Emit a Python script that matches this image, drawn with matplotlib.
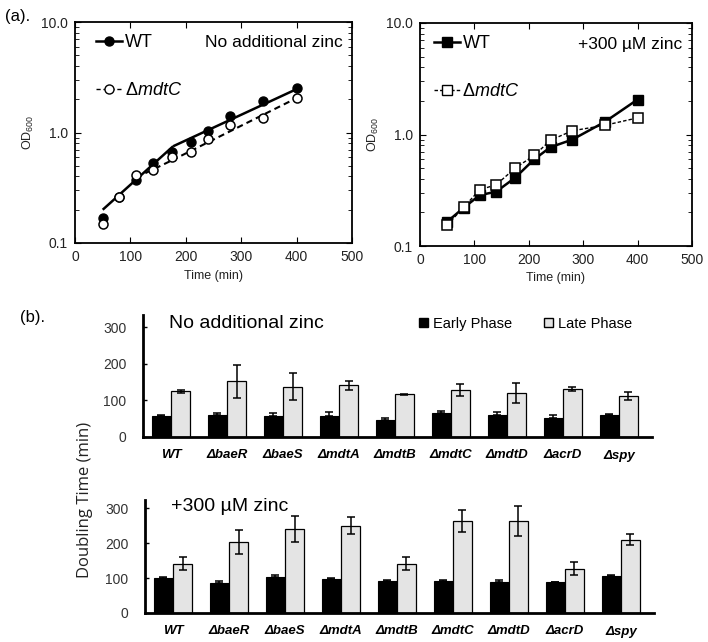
import matplotlib
matplotlib.use("Agg")
import matplotlib.pyplot as plt
import numpy as np
from matplotlib.lines import Line2D
from matplotlib.patches import Patch
from matplotlib.ticker import FixedLocator, FixedFormatter, NullFormatter

plt.rcParams['font.family'] = ['Liberation Sans', 'DejaVu Sans']
plt.rcParams['mathtext.fontset'] = 'custom'
plt.rcParams['mathtext.rm'] = 'Liberation Sans'
plt.rcParams['mathtext.it'] = 'Liberation Sans:italic'
plt.rcParams['mathtext.bf'] = 'Liberation Sans:bold'

# ---------------- data: panel (a) ----------------
time_wt = [50, 80, 110, 140, 175, 210, 240, 280, 340, 400]
od_wt_nozn = [0.168, 0.26, 0.37, 0.53, 0.67, 0.82, 1.04, 1.42, 1.93, 2.51]
time_mut = [50, 80, 110, 140, 175, 210, 240, 280, 340, 400]
od_mut_nozn = [0.150, 0.26, 0.41, 0.46, 0.60, 0.66, 0.87, 1.16, 1.36, 2.05]
# fitted lines (no additional zinc)
fit_wt_t = [[50, 177], [177, 400]]
fit_wt_od = [[0.20, 0.75], [0.75, 2.47]]
fit_mut_t = [[110, 175], [175, 400]]
fit_mut_od = [[0.39, 0.56], [0.56, 2.05]]

od_wt_zn = [0.165, 0.22, 0.286, 0.307, 0.41, 0.60, 0.77, 0.90, 1.30, 2.06]
od_mut_zn = [0.154, 0.222, 0.32, 0.354, 0.50, 0.65, 0.89, 1.08, 1.21, 1.41]

# ---------------- data: panel (b) ----------------
strains = ['WT', 'ΔbaeR', 'ΔbaeS', 'ΔmdtA', 'ΔmdtB', 'ΔmdtC', 'ΔmdtD', 'ΔacrD', 'Δspy']
early_nozn = [58, 59, 58, 58, 46, 65, 59, 51, 59]
early_nozn_err = [2, 8, 9, 10, 7, 5, 10, 8, 4]
late_nozn = [125, 153, 138, 141, 117, 128, 120, 132, 111]
late_nozn_err = [5, 45, 36, 12, 2, 17, 27, 6, 11]
early_zn = [100, 87, 103, 97, 92, 92, 89, 89, 107]
early_zn_err = [2, 4, 5, 2, 2, 2, 5, 1, 2]
late_zn = [141, 204, 240, 250, 141, 262, 262, 127, 210]
late_zn_err = [19, 34, 36, 25, 19, 31, 43, 19, 15]

fig = plt.figure(figsize=(7.08, 6.42), dpi=100)

def style_growth(ax):
    ax.set_yscale('log')
    ax.set_xlim(0, 500)
    ax.set_ylim(0.1, 10)
    ax.set_xticks([0, 100, 200, 300, 400, 500])
    ax.yaxis.set_major_locator(FixedLocator([0.1, 1, 10]))
    ax.yaxis.set_major_formatter(FixedFormatter(['0.1', '1.0', '10.0']))
    minors = [m * d for d in (0.1, 1) for m in range(2, 10)]
    ax.yaxis.set_minor_locator(FixedLocator(minors))
    ax.yaxis.set_minor_formatter(NullFormatter())
    ax.tick_params(which='both', direction='in', top=True, right=True,
                   labelsize=10, colors='black', labelcolor='#222222', pad=5)
    ax.tick_params(which='major', length=4, width=0.8)
    ax.tick_params(which='minor', length=3, width=0.6)
    for s in ax.spines.values():
        s.set_linewidth(1.3)
    ax.set_xlabel('Time (min)', fontsize=9, labelpad=4, color='#222222')
    ax.set_ylabel('OD$_{600}$', fontsize=9, labelpad=4, color='#222222')

leg_kw = dict(loc='upper left', borderaxespad=0, borderpad=0, frameon=False,
              fontsize=13, handlelength=1.45, handletextpad=0.15, labelspacing=1.7)

# ---- (a) left
ax1 = fig.add_axes([75/708, 1-243/642, 277/708, 221/642])
style_growth(ax1)
for t, o in zip(fit_wt_t, fit_wt_od):
    ax1.plot(t, o, color='black', lw=1.8, solid_capstyle='butt')
for t, o in zip(fit_mut_t, fit_mut_od):
    ax1.plot(t, o, color='black', lw=1.5, ls=(0, (3, 2)))
ax1.plot(time_wt, od_wt_nozn, 'o', color='black', ms=6.5, ls='none', zorder=3)
ax1.plot(time_mut, od_mut_nozn, 'o', mfc='white', mec='black', mew=1.1, ms=6.5,
         ls='none', zorder=4)
h1 = [Line2D([], [], color='black', lw=1.8, marker='o', ms=6.5),
      Line2D([], [], color='black', lw=1.0, ls=(0, (3, 2)), marker='o', mfc='white',
             mec='black', ms=6.5)]
ax1.legend(h1, ['WT', r'$\Delta\it{mdtC}$'], bbox_to_anchor=(0.075, 0.945), **leg_kw)
ax1.text(0.965, 0.905, 'No additional zinc', transform=ax1.transAxes, ha='right',
         va='center', fontsize=12.5)

# ---- (a) right
ax2 = fig.add_axes([420/708, 1-246/642, 272/708, 223/642])
style_growth(ax2)
ax2.plot(time_wt, od_wt_zn, '-s', color='black', lw=1.8, ms=7, zorder=3)
ax2.plot(time_mut, od_mut_zn, ls=(0, (2.5, 1.5)), color='black', lw=1.0,
         marker='s', mfc='white', mec='black', mew=1.1, ms=7.5, zorder=4)
h2 = [Line2D([], [], color='black', lw=1.8, marker='s', ms=7),
      Line2D([], [], color='black', lw=1.0, ls=(0, (2.5, 1.5)), marker='s', mfc='white',
             mec='black', ms=7.5)]
ax2.legend(h2, ['WT', r'$\Delta\it{mdtC}$'], bbox_to_anchor=(0.05, 0.945), **leg_kw)
ax2.text(0.963, 0.905, '+300 µM zinc', transform=ax2.transAxes, ha='right',
         va='center', fontsize=12.5)

fig.text(5/708, 1-16/642, '(a).', fontsize=12, va='center', ha='left')
fig.text(20/708, 1-318/642, '(b).', fontsize=12, va='center', ha='left')

# ---- (b) bar panels
def bar_panel(rect, early, early_err, late, late_err, ytop, title, title_y):
    ax = fig.add_axes(rect)
    x = np.arange(len(strains))
    w = 0.34
    ek = dict(ecolor='black', elinewidth=1.1, capsize=3, capthick=1.1)
    ax.bar(x - w/2, early, w, yerr=[np.zeros(len(early)), early_err],
           color='black', edgecolor='black', linewidth=0.8, error_kw=ek)
    ax.bar(x + w/2, late, w, yerr=late_err, color='#e4e4e4',
           edgecolor='black', linewidth=0.9, error_kw=ek)
    ax.set_xlim(-0.5, 8.59)
    ax.set_ylim(0, ytop)
    ax.set_yticks([0, 100, 200, 300])
    ax.set_xticks(x)
    ax.set_xticklabels(strains, fontsize=9.5, fontweight='bold', style='italic')
    ax.tick_params(axis='x', length=0, pad=9)
    ax.tick_params(axis='y', direction='in', length=3, width=1, labelsize=10,
                   labelcolor='#333333', pad=12)
    for s in ('top', 'right'):
        ax.spines[s].set_visible(False)
    for s in ('left', 'bottom'):
        ax.spines[s].set_linewidth(2)
    ax.text(26/509, title_y, title, transform=ax.transAxes, fontsize=14,
            va='center', ha='left')
    return ax

bx1 = bar_panel([143/708, 1-437/642, 509/708, 122/642], early_nozn, early_nozn_err,
                late_nozn, late_nozn_err, 334, 'No additional zinc', 0.93)
bx1.legend([Patch(facecolor='black', edgecolor='black'),
            Patch(facecolor='#e4e4e4', edgecolor='black')],
           ['Early Phase', 'Late Phase'], loc='center left',
           bbox_to_anchor=(276/509, 0.93), ncol=2, frameon=False, fontsize=10.5,
           handlelength=0.6, handleheight=0.6, handletextpad=0.35,
           columnspacing=2.2, borderpad=0, borderaxespad=0)

bx2 = bar_panel([145/708, 1-613/642, 509/708, 113/642], early_zn, early_zn_err,
                late_zn, late_zn_err, 323, '+300 µM zinc', 0.94)

fig.text(85/708, 1-500/642, 'Doubling Time (min)', rotation=90, fontsize=12,
         va='center', ha='center', family=['Open Sans', 'DejaVu Sans'],
         color='#222222')

fig.savefig('out.png', dpi=100)
